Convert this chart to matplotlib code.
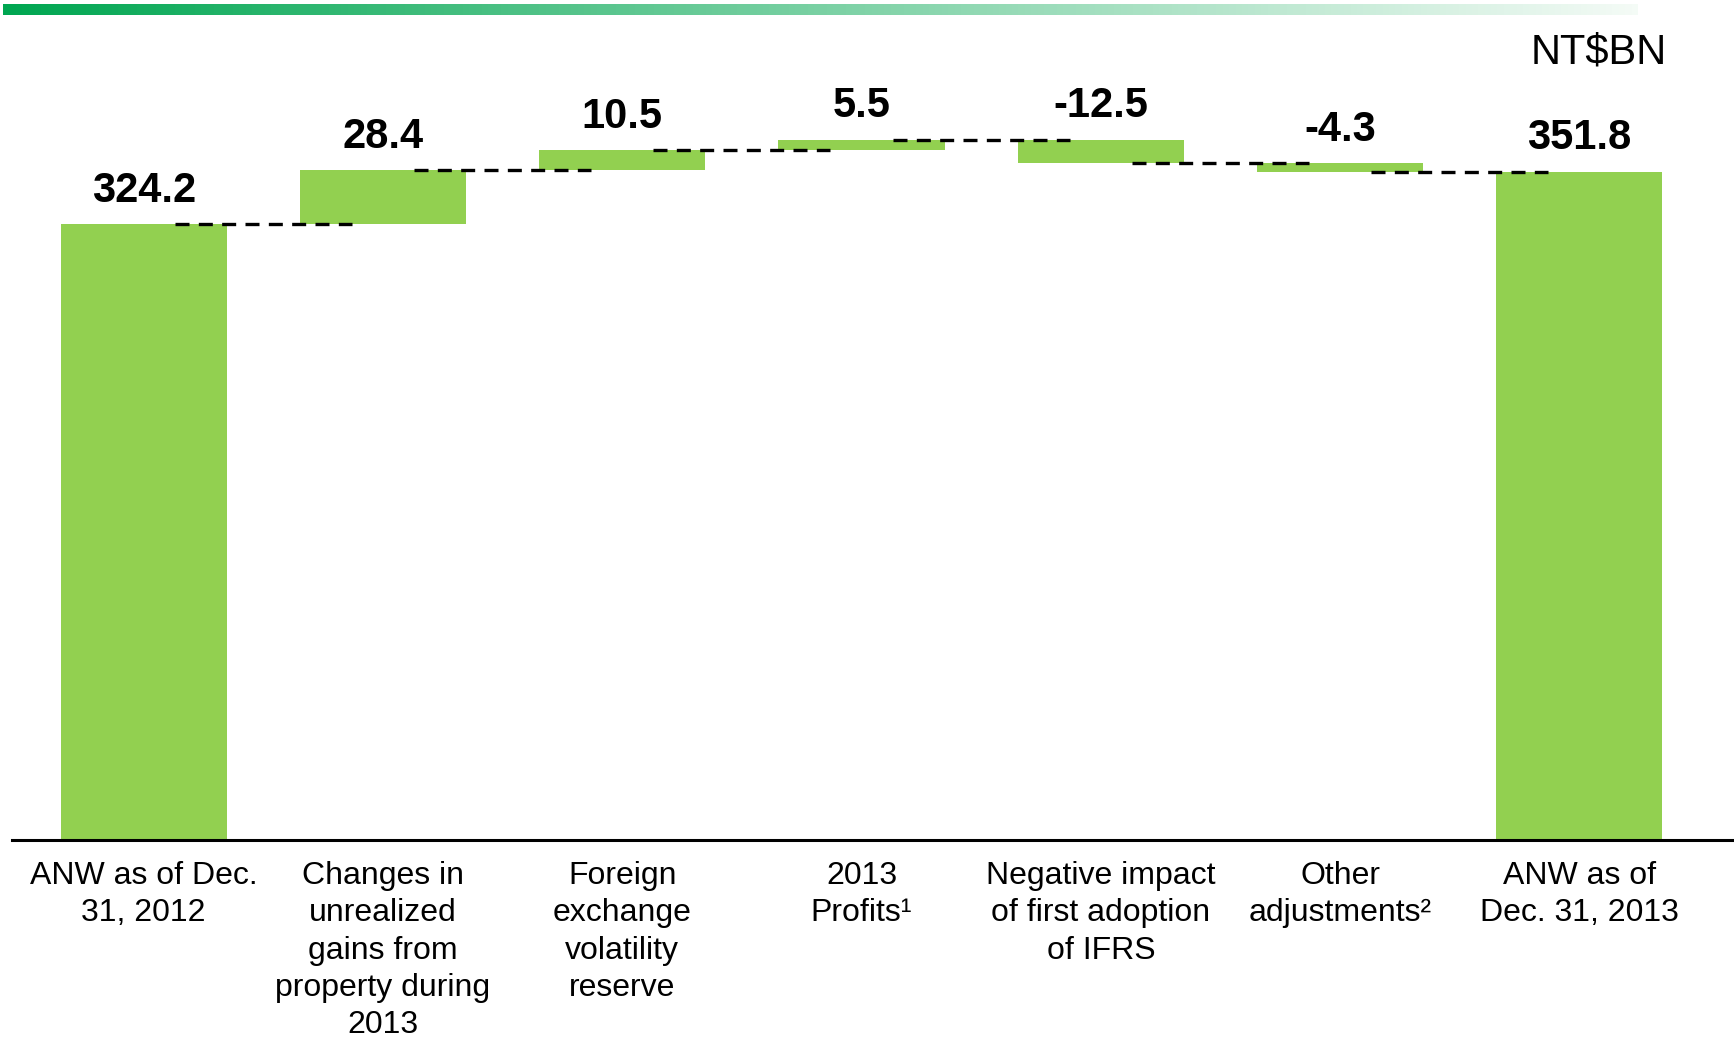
import matplotlib.pyplot as plt
import numpy as np
from matplotlib.colors import LinearSegmentedColormap

plt.rcParams['font.family'] = ['Liberation Sans', 'DejaVu Sans']

# Waterfall data (NT$BN)
categories = ["ANW as of Dec.\n31, 2012",
              "Changes in\nunrealized\ngains from\nproperty during\n2013",
              "Foreign\nexchange\nvolatility\nreserve",
              "2013\nProfits\u00b9",
              "Negative impact\nof first adoption\nof IFRS",
              "Other\nadjustments\u00b2",
              "ANW as of\nDec. 31, 2013"]
values = [324.2, 28.4, 10.5, 5.5, -12.5, -4.3, 351.8]
value_labels = ["324.2", "28.4", "10.5", "5.5", "-12.5", "-4.3", "351.8"]
is_total = [True, False, False, False, False, False, True]

bar_color = '#92D050'

# work out the floating bars
bottoms, heights, levels = [], [], []
running = 0
for v, total in zip(values, is_total):
    if total:
        bottoms.append(0)
        heights.append(v)
        running = v
    else:
        bottoms.append(running + min(v, 0))
        heights.append(abs(v))
        running += v
    levels.append(running)

fig = plt.figure(figsize=(17.34, 10.4), dpi=100)

# green gradient strip at the top
strip = fig.add_axes([3 / 1734, 1 - 15 / 1040, 1634 / 1734, 11 / 1040])
cmap = LinearSegmentedColormap.from_list('strip', ['#00A651', '#F4FBF6'])
strip.imshow(np.linspace(0, 1, 256)[None, :], aspect='auto', cmap=cmap)
strip.axis('off')

ax = fig.add_axes([12 / 1734, 1 - 840 / 1040, 1722 / 1734, 780 / 1040])
x = np.arange(len(values))
ax.bar(x, heights, bottom=bottoms, width=0.694, color=bar_color, zorder=2)

# dashed connectors between bars
for i in range(len(values) - 1):
    ax.hlines(levels[i], i + 0.13, i + 0.87, colors='black', lw=2.4,
              linestyles=(0, (4.2, 2.8)), zorder=3)

# value labels
for i in range(len(values)):
    ax.annotate(value_labels[i], (x[i], bottoms[i] + heights[i]),
                xytext=(0, 16), textcoords='offset points',
                ha='center', va='baseline', fontsize=30, fontweight='bold')

ax.set_xlim(-0.55, 6.646)
ax.set_ylim(0, 410.5)
ax.set_xticks(x, categories, fontsize=23, linespacing=1.32)
ax.tick_params(axis='x', length=0, pad=15)
ax.set_yticks([])
for side in ['top', 'right', 'left']:
    ax.spines[side].set_visible(False)
ax.spines['bottom'].set_linewidth(2.2)

fig.text(1667 / 1734, 1 - 52 / 1040, 'NT$BN', ha='right', va='center', fontsize=30)

plt.savefig('out.png', dpi=100)
plt.close()
